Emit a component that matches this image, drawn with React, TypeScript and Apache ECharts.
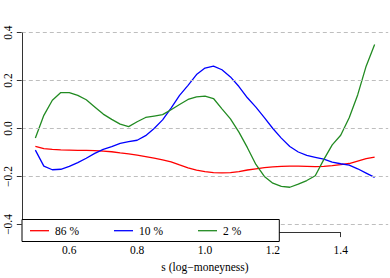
import React, { useEffect, useRef } from "react";
import * as echarts from "echarts";

const xs = [0.5, 0.525, 0.55, 0.575, 0.6, 0.625, 0.65, 0.675, 0.7, 0.725, 0.75, 0.775, 0.8, 0.825, 0.85, 0.875, 0.9, 0.925, 0.95, 0.975, 1.0, 1.025, 1.05, 1.075, 1.1, 1.125, 1.15, 1.175, 1.2, 1.225, 1.25, 1.275, 1.3, 1.325, 1.35, 1.375, 1.4, 1.425, 1.45, 1.475, 1.5];

const red86 = [-0.075, -0.084, -0.087, -0.089, -0.09, -0.091, -0.091, -0.092, -0.094, -0.097, -0.102, -0.106, -0.111, -0.117, -0.124, -0.131, -0.139, -0.152, -0.164, -0.174, -0.18, -0.184, -0.185, -0.184, -0.18, -0.173, -0.168, -0.163, -0.16, -0.158, -0.157, -0.157, -0.158, -0.159, -0.158, -0.155, -0.151, -0.146, -0.136, -0.126, -0.119];

const blue10 = [-0.09, -0.157, -0.172, -0.17, -0.158, -0.142, -0.124, -0.104, -0.087, -0.076, -0.062, -0.055, -0.049, -0.03, 0.0, 0.036, 0.085, 0.138, 0.18, 0.225, 0.252, 0.26, 0.245, 0.215, 0.175, 0.128, 0.089, 0.045, 0.0, -0.04, -0.075, -0.098, -0.112, -0.12, -0.128, -0.14, -0.147, -0.153, -0.168, -0.186, -0.204];

const green2 = [-0.04, 0.055, 0.118, 0.15, 0.15, 0.138, 0.12, 0.09, 0.06, 0.038, 0.018, 0.008, 0.028, 0.046, 0.052, 0.058, 0.078, 0.1, 0.121, 0.132, 0.135, 0.125, 0.082, 0.04, -0.015, -0.08, -0.15, -0.2, -0.228, -0.241, -0.245, -0.232, -0.217, -0.197, -0.13, -0.068, -0.028, 0.045, 0.14, 0.26, 0.35];

const xTicks = [0.6, 0.8, 1.0, 1.2, 1.4];
const yTicks = [-0.4, -0.2, 0.0, 0.2, 0.4];
const legendLabels = ["86 %", "10 %", "2 %"];
const colors = ["#ff0000", "#0000ff", "#228b22"];

const X_MIN = 0.46;
const X_MAX = 1.54;
const Y_MIN = -0.432;
const Y_MAX = 0.432;

const FONT = "'Liberation Serif', 'DejaVu Serif', serif";

const fmt = (v: number) => {
  const s = Math.abs(v).toFixed(1);
  return v < -1e-9 ? "\u2212" + s : s;
};

export default function App() {
  const ref = useRef<HTMLDivElement>(null);
  useEffect(() => {
    if (!ref.current) return;
    const chart = echarts.init(ref.current, undefined, { renderer: "svg" });
    const mk = (ys: number[]) => xs.map((x, i) => [x, ys[i]]);
    const gridLines = yTicks.map((v) => ({
      yAxis: v,
      lineStyle: { color: "#bebebe", type: [4, 3] as any, width: 1 },
    }));
    const axisLines: any[] = [
      [
        { coord: [xTicks[0], Y_MIN], lineStyle: { color: "#333", type: "solid", width: 1 } },
        { coord: [xTicks[xTicks.length - 1], Y_MIN] },
      ],
      [
        { coord: [X_MIN, yTicks[0]], lineStyle: { color: "#333", type: "solid", width: 1 } },
        { coord: [X_MIN, yTicks[yTicks.length - 1]] },
      ],
    ];
    const legendX = [30, 114, 198];
    const legendGraphics: any[] = [
      {
        type: "rect",
        shape: { x: 22, y: 219.5, width: 257.3, height: 22 },
        style: { fill: "#fff", stroke: "#000", lineWidth: 1 },
        z: 100,
      },
    ];
    legendLabels.forEach((lab, i) => {
      legendGraphics.push({
        type: "line",
        shape: { x1: legendX[i], y1: 230.7, x2: legendX[i] + 19, y2: 230.7 },
        style: { stroke: colors[i], lineWidth: 1.3 },
        z: 101,
      });
      legendGraphics.push({
        type: "text",
        x: legendX[i] + 25,
        y: 231,
        style: {
          text: lab,
          fill: "#000",
          font: `11.5px ${FONT}`,
          verticalAlign: "middle",
        },
        z: 101,
      });
    });

    chart.setOption({
      animation: false,
      backgroundColor: "#fff",
      grid: { left: 21.8, right: 1.8, top: 24.9, bottom: 36.3, containLabel: false },
      xAxis: {
        type: "value",
        min: X_MIN,
        max: X_MAX,
        name: "s (log\u2212moneyness)",
        nameLocation: "middle",
        nameGap: 26,
        nameTextStyle: { fontFamily: FONT, fontSize: 11.5, color: "#000" },
        axisLine: { show: false, onZero: false },
        splitLine: { show: false },
        axisTick: {
          show: true,
          customValues: xTicks,
          length: 5,
          lineStyle: { color: "#333" },
        },
        axisLabel: {
          customValues: xTicks,
          formatter: (v: number) => fmt(v),
          fontFamily: FONT,
          fontSize: 11.5,
          color: "#000",
          margin: 12,
        },
      },
      yAxis: {
        type: "value",
        min: Y_MIN,
        max: Y_MAX,
        axisLine: { show: false, onZero: false },
        splitLine: { show: false },
        axisTick: {
          show: true,
          customValues: yTicks,
          length: 5,
          lineStyle: { color: "#333" },
        },
        axisLabel: {
          customValues: yTicks,
          formatter: (v: number) => fmt(v),
          fontFamily: FONT,
          fontSize: 11.5,
          color: "#000",
          rotate: 90,
          margin: 8,
        },
      },
      series: [
        {
          type: "line",
          name: legendLabels[0],
          data: mk(red86),
          showSymbol: false,
          clip: false,
          lineStyle: { color: colors[0], width: 1.3 },
          itemStyle: { color: colors[0] },
          z: 2,
          markLine: {
            silent: true,
            symbol: "none",
            label: { show: false },
            animation: false,
            data: [...gridLines, ...axisLines],
          },
        },
        {
          type: "line",
          name: legendLabels[1],
          data: mk(blue10),
          showSymbol: false,
          lineStyle: { color: colors[1], width: 1.3 },
          itemStyle: { color: colors[1] },
          z: 3,
        },
        {
          type: "line",
          name: legendLabels[2],
          data: mk(green2),
          showSymbol: false,
          lineStyle: { color: colors[2], width: 1.3 },
          itemStyle: { color: colors[2] },
          z: 4,
        },
      ],
      graphic: legendGraphics,
    });
    return () => chart.dispose();
  }, []);
  return (
    <div
      ref={ref}
      style={{ position: "absolute", left: 0, top: 0, width: 390, height: 278 }}
    />
  );
}
